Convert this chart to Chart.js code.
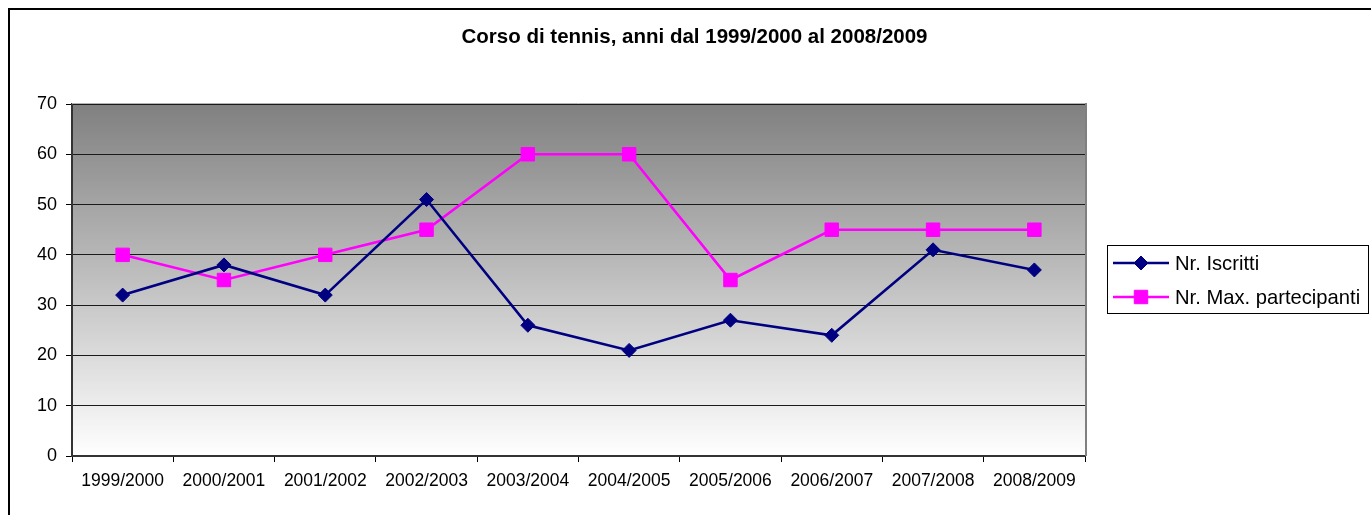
<!DOCTYPE html>
<html lang="it">
<head>
<meta charset="utf-8">
<title>Corso di tennis</title>
<script src="https://cdn.jsdelivr.net/npm/chart.js@4.4.1/dist/chart.umd.min.js"></script>
<style>
    html, body { margin: 0; padding: 0; background: #fff; }
    #wrap { position: relative; width: 1371px; height: 515px; overflow: hidden; }
    canvas { position: absolute; left: 0; top: 0; }
</style>
</head>
<body>
<div id="wrap"><canvas id="tennisChart" width="1371" height="515"></canvas></div>
<script>
// Data
const TITLE = 'Corso di tennis, anni dal 1999/2000 al 2008/2009';
const anni = ['1999/2000', '2000/2001', '2001/2002', '2002/2003', '2003/2004',
              '2004/2005', '2005/2006', '2006/2007', '2007/2008', '2008/2009'];
const iscritti = [32, 38, 32, 51, 26, 21, 27, 24, 41, 37];
const maxPartecipanti = [40, 35, 40, 45, 60, 60, 35, 45, 45, 45];
const yTicks = [0, 10, 20, 30, 40, 50, 60, 70];

const FONT = '"Liberation Sans", Arial, sans-serif';

// sfondo, cornice, titolo (disegnati prima del grafico)
const backgroundPlugin = {
    id: 'excelBackground',
    beforeDraw(chart) {
        const ctx = chart.ctx;
        const a = chart.chartArea;
        ctx.save();
        // cornice esterna
        ctx.strokeStyle = '#000';
        ctx.lineWidth = 2;
        ctx.strokeRect(9, 9, chart.width + 20, chart.height + 20);
        // sfondo sfumato dell'area del grafico
        const grad = ctx.createLinearGradient(0, a.top, 0, a.bottom);
        grad.addColorStop(0, '#808080');
        grad.addColorStop(1, '#ffffff');
        ctx.fillStyle = grad;
        ctx.fillRect(a.left, a.top, a.right - a.left, a.bottom - a.top);
        // titolo
        ctx.fillStyle = '#000';
        ctx.font = 'bold 20.5px ' + FONT;
        ctx.textAlign = 'center';
        ctx.textBaseline = 'middle';
        ctx.fillText(TITLE, 694.5, 37);
        ctx.restore();
    },
    afterDraw(chart) {
        const ctx = chart.ctx;
        const a = chart.chartArea;
        ctx.save();
        // bordo dell'area del grafico (alto e destra)
        ctx.strokeStyle = '#b4b4b4';
        ctx.lineWidth = 1;
        ctx.beginPath();
        ctx.moveTo(a.left, a.top - 0.5);
        ctx.lineTo(a.right, a.top - 0.5);
        ctx.stroke();
        ctx.strokeStyle = '#808080';
        ctx.lineWidth = 2;
        ctx.beginPath();
        ctx.moveTo(a.right + 1, a.top - 1);
        ctx.lineTo(a.right + 1, a.bottom);
        ctx.stroke();
        ctx.restore();
    }
};

// legenda a destra con linea + marcatore, come in Excel
const legendPlugin = {
    id: 'excelLegend',
    afterDraw(chart) {
        const ctx = chart.ctx;
        const box = { x: 1107.5, y: 245.5, w: 261, h: 68 };
        ctx.save();
        ctx.strokeStyle = '#000';
        ctx.lineWidth = 1;
        ctx.strokeRect(box.x, box.y, box.w, box.h);
        chart.data.datasets.forEach((ds, i) => {
            const y = 263 + i * 34;
            ctx.strokeStyle = ds.borderColor;
            ctx.lineWidth = ds.borderWidth;
            ctx.beginPath();
            ctx.moveTo(1113, y);
            ctx.lineTo(1169, y);
            ctx.stroke();
            ctx.fillStyle = ds.pointBackgroundColor;
            ctx.strokeStyle = ds.pointBorderColor;
            ctx.lineWidth = 1;
            Chart.helpers.drawPoint(ctx, { pointStyle: ds.pointStyle, radius: ds.pointRadius, borderWidth: 1 }, 1141, y);
            ctx.fillStyle = '#000';
            ctx.font = '20.2px ' + FONT;
            ctx.textAlign = 'left';
            ctx.textBaseline = 'middle';
            ctx.fillText(ds.label, 1175, y + 1);
        });
        ctx.restore();
    }
};

const ctx = document.getElementById('tennisChart').getContext('2d');
const chart = new Chart(ctx, {
    type: 'line',
    data: {
        labels: anni,
        datasets: [
            {
                label: 'Nr. Iscritti',
                data: iscritti,
                borderColor: '#000080',
                borderWidth: 2.6,
                pointStyle: 'rectRot',
                pointRadius: 7,
                pointBorderWidth: 1,
                pointBackgroundColor: '#000080',
                pointBorderColor: '#000080',
                tension: 0
            },
            {
                label: 'Nr. Max. partecipanti',
                data: maxPartecipanti,
                borderColor: '#ff00ff',
                borderWidth: 2.6,
                pointStyle: 'rect',
                pointRadius: 9.5,
                pointBorderWidth: 1,
                pointBackgroundColor: '#ff00ff',
                pointBorderColor: '#ff00ff',
                tension: 0
            }
        ]
    },
    options: {
        responsive: false,
        animation: false,
        events: [],
        layout: { padding: { top: 104, right: 286, bottom: 0, left: 0 } },
        plugins: {
            legend: { display: false },
            title: { display: false },
            tooltip: { enabled: false }
        },
        scales: {
            x: {
                offset: true,
                grid: { offset: true, drawOnChartArea: false, drawTicks: true, tickLength: 6, color: '#000', lineWidth: 1 },
                border: { display: true, color: '#333', width: 2 },
                ticks: { color: '#000', font: { family: FONT, size: 17.5 }, padding: 9, maxRotation: 0, autoSkip: false },
                afterFit(scale) { scale.height = 59; }
            },
            y: {
                min: 0,
                max: 70,
                afterBuildTicks(scale) { scale.ticks = yTicks.map(v => ({ value: v })); },
                grid: { color: '#1a1a1a', lineWidth: 1, tickLength: 6, tickColor: '#000' },
                border: { display: true, color: '#333', width: 2 },
                ticks: { color: '#000', font: { family: FONT, size: 18 }, padding: 9 },
                afterFit(scale) { scale.width = 72; }
            }
        }
    },
    plugins: [backgroundPlugin, legendPlugin]
});
</script>
</body>
</html>
